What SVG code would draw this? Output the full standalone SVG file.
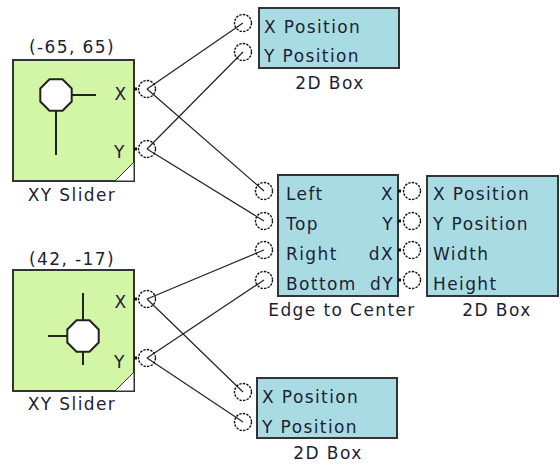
<svg xmlns="http://www.w3.org/2000/svg" width="560" height="464" viewBox="0 0 560 464">
<style>
text{font-family:"DejaVu Sans","Verdana",sans-serif;font-size:17px;letter-spacing:1.4px;fill:#1e1e36}
.c{text-anchor:middle}
.e{text-anchor:end}
.slider{fill:#d2f5a6;stroke:#333;stroke-width:2}
.box{fill:#a8dce2;stroke:#333;stroke-width:2}
.knob{fill:#fff;stroke:#222;stroke-width:2}
.kl{stroke:#222;stroke-width:2}
.tri{fill:#fff;stroke:#333;stroke-width:1}
.port{fill:none;stroke:#111;stroke-width:1.4;stroke-dasharray:2.4 1.2}
.dot{fill:#111}
.wire{stroke:#222;stroke-width:1.2;fill:none}
</style>
<g id="connectors">
<line class="wire" x1="147" y1="89" x2="243" y2="23"/>
<line class="wire" x1="147" y1="149" x2="243" y2="52"/>
<line class="wire" x1="147" y1="89" x2="264" y2="191"/>
<line class="wire" x1="147" y1="149" x2="264" y2="221"/>
<line class="wire" x1="147" y1="299" x2="264" y2="250"/>
<line class="wire" x1="147" y1="358" x2="264" y2="280"/>
<line class="wire" x1="147" y1="299" x2="243" y2="392"/>
<line class="wire" x1="147" y1="358" x2="243" y2="422"/>
</g>
<g id="slider1">
<text class="c" x="72" y="53">(-65, 65)</text>
<rect class="slider" x="13" y="60" width="121" height="121"/>
<line class="kl" x1="71" y1="95" x2="96" y2="95"/>
<line class="kl" x1="56" y1="110" x2="56" y2="155"/>
<polygon class="knob" points="49.5,79.3 62.5,79.3 71.7,88.5 71.7,101.5 62.5,110.7 49.5,110.7 40.3,101.5 40.3,88.5"/>
<text class="c" x="121" y="100">X</text>
<text class="c" x="120" y="158">Y</text>
<polygon class="tri" points="115,181 134,181 134,162"/>
<rect class="dot" x="134" y="87.5" width="3" height="3"/>
<rect class="dot" x="134" y="147.5" width="3" height="3"/>
<circle class="port" cx="147" cy="89" r="8.5"/>
<circle class="port" cx="147" cy="149" r="8.5"/>
<text class="c" x="72" y="201">XY Slider</text>
</g>
<g id="slider2">
<text class="c" x="72" y="265">(42, -17)</text>
<rect class="slider" x="13" y="270" width="121" height="121"/>
<line class="kl" x1="83" y1="293" x2="83" y2="321"/>
<line class="kl" x1="83" y1="351" x2="83" y2="365"/>
<line class="kl" x1="48" y1="336" x2="68" y2="336"/>
<polygon class="knob" points="76.5,320.3 89.5,320.3 98.7,329.5 98.7,342.5 89.5,351.7 76.5,351.7 67.3,342.5 67.3,329.5"/>
<text class="c" x="121" y="308">X</text>
<text class="c" x="120" y="368">Y</text>
<polygon class="tri" points="115,391 134,391 134,372"/>
<rect class="dot" x="134" y="297.5" width="3" height="3"/>
<rect class="dot" x="134" y="356.5" width="3" height="3"/>
<circle class="port" cx="147" cy="299" r="8.5"/>
<circle class="port" cx="147" cy="358" r="8.5"/>
<text class="c" x="72" y="410">XY Slider</text>
</g>
<g id="box2d-top">
<rect class="box" x="259" y="8" width="140" height="60"/>
<circle class="port" cx="243" cy="23" r="8.5"/>
<circle class="port" cx="243" cy="52" r="8.5"/>
<text x="264" y="33">X Position</text>
<text x="264" y="62">Y Position</text>
<text class="c" x="330" y="89">2D Box</text>
</g>
<g id="edge-to-center">
<rect class="box" x="278" y="175" width="120" height="121"/>
<circle class="port" cx="264" cy="191" r="8.5"/>
<circle class="port" cx="264" cy="221" r="8.5"/>
<circle class="port" cx="264" cy="250" r="8.5"/>
<circle class="port" cx="264" cy="280" r="8.5"/>
<text x="286" y="200">Left</text>
<text x="286" y="230">Top</text>
<text x="286" y="260">Right</text>
<text x="286" y="290">Bottom</text>
<text class="e" x="394" y="200">X</text>
<text class="e" x="394" y="230">Y</text>
<text class="e" x="394" y="260">dX</text>
<text class="e" x="394" y="290">dY</text>
<rect class="dot" x="398" y="189.5" width="3" height="3"/>
<rect class="dot" x="398" y="219.5" width="3" height="3"/>
<rect class="dot" x="398" y="248.5" width="3" height="3"/>
<rect class="dot" x="398" y="278.5" width="3" height="3"/>
<circle class="port" cx="412" cy="191" r="8.5"/>
<circle class="port" cx="412" cy="221" r="8.5"/>
<circle class="port" cx="412" cy="250" r="8.5"/>
<circle class="port" cx="412" cy="280" r="8.5"/>
<text class="c" x="342" y="316">Edge to Center</text>
</g>
<g id="box2d-right">
<rect class="box" x="427" y="176" width="131" height="120"/>
<text x="433" y="200">X Position</text>
<text x="433" y="230">Y Position</text>
<text x="433" y="260">Width</text>
<text x="433" y="290">Height</text>
<text class="c" x="497" y="316">2D Box</text>
</g>
<g id="box2d-bottom">
<rect class="box" x="257" y="378" width="140" height="60"/>
<circle class="port" cx="243" cy="392" r="8.5"/>
<circle class="port" cx="243" cy="422" r="8.5"/>
<text x="262" y="403">X Position</text>
<text x="262" y="433">Y Position</text>
<text class="c" x="328" y="459">2D Box</text>
</g>
</svg>
